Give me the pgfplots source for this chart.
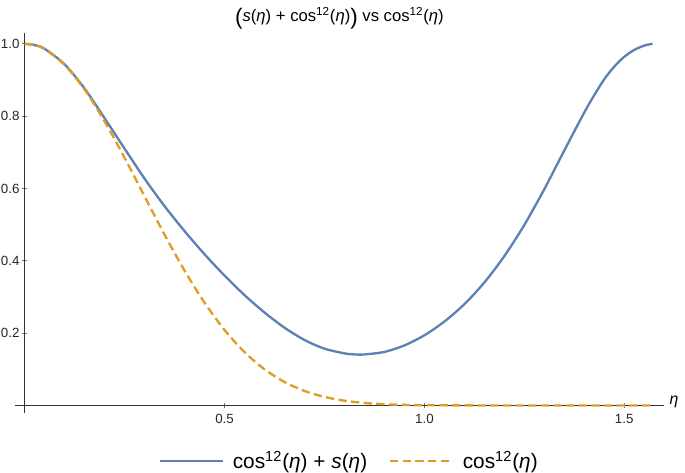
\documentclass[border=0pt]{standalone}
\usepackage{pgfplots}
\pgfplotsset{compat=1.18}
\usepackage{fontspec}
\setmainfont{Liberation Sans}
\definecolor{mblue}{RGB}{94,129,181}
\definecolor{morange}{RGB}{225,156,36}
\newcommand{\bigpar}[1]{\raisebox{-1.6pt}{\fontsize{13.5}{13.5}\selectfont #1}}
\begin{document}
\begin{tikzpicture}
\begin{axis}[
  scale only axis, width=390pt, height=228pt,
  axis lines=middle,
  xmin=-0.025, xmax=1.6, ymin=-0.02, ymax=1.03,
  xtick={0.5,1.0,1.5}, ytick={0.2,0.4,0.6,0.8,1.0},
  xticklabels={0.5,1.0,1.5}, yticklabels={0.2,0.4,0.6,0.8,1.0},
  tick label style={font=\fontsize{8}{10}\selectfont, text=black!85, inner sep=0.6pt},
  yticklabel style={xshift=-0.8pt},
  xticklabel style={yshift=-3pt},
  major tick length=3pt,
  tick style={black!55, thin},
  axis line style={black!80, line width=0.6pt, -},
  title={\bigpar{(}\textit{s}(\textit{η}) + cos\textsuperscript{12}(\textit{η})\bigpar{)} vs cos\textsuperscript{12}(\textit{η})},
  title style={font=\fontsize{10}{12}\selectfont, yshift=-7pt},
  legend style={at={(0.52,0)}, yshift=-22pt, anchor=north, draw=none, fill=none,
    inner sep=0pt,
    font=\fontsize{12.5}{14}\selectfont,
    nodes={inner xsep=5pt, inner ysep=1pt},
    /tikz/every even column/.append style={column sep=8pt}},
  legend columns=2,
  legend image code/.code={\draw[#1] (0pt,0pt) -- (38pt,0pt);},
  clip=false,
]
\addplot[mblue, line width=1.4pt, smooth] coordinates {
(0,1.000) (0.025,0.9965) (0.05,0.986) (0.10,0.943) (0.15,0.876) (0.20,0.794) (0.25,0.710)
(0.30,0.627) (0.35,0.551) (0.40,0.482) (0.45,0.418) (0.50,0.359) (0.55,0.305)
(0.60,0.257) (0.65,0.215) (0.70,0.181) (0.75,0.157) (0.80,0.144) (0.825,0.141)
(0.85,0.141) (0.90,0.148) (0.95,0.166) (1.00,0.194) (1.05,0.232) (1.10,0.280)
(1.15,0.340) (1.20,0.413) (1.25,0.499) (1.30,0.598) (1.35,0.705) (1.40,0.810)
(1.425,0.858) (1.45,0.902) (1.475,0.937) (1.50,0.964) (1.525,0.983) (1.55,0.995) (1.5708,1.000)
};
\addlegendentry{cos\textsuperscript{12}(\textit{η}) + \textit{s}(\textit{η})}
\addplot[morange, line width=1.4pt, smooth, dash pattern=on 5pt off 2.6pt] coordinates {
(0,1.000) (0.025,0.9963) (0.05,0.9851) (0.10,0.9417) (0.15,0.8733) (0.20,0.7854) (0.25,0.6846)
(0.30,0.5779) (0.35,0.4721) (0.40,0.3728) (0.45,0.2841) (0.50,0.2087) (0.55,0.1474)
(0.60,0.0999) (0.65,0.0648) (0.70,0.0401) (0.75,0.0235) (0.80,0.0131) (0.85,0.0068)
(0.90,0.0033) (0.95,0.0015) (1.00,0.0006) (1.10,0.0001) (1.20,0.0000) (1.30,0.0000)
(1.40,0.0000) (1.50,0.0000) (1.5708,0.0000)
};
\addlegendentry{cos\textsuperscript{12}(\textit{η})}
\node[anchor=west, font=\fontsize{9.5}{11}\selectfont\itshape, inner sep=1pt, xshift=2pt] at (axis cs:1.6,0.01) {η};
\end{axis}
\path ([yshift=1pt]current bounding box.north east) -- ([xshift=3pt]current bounding box.south east);
\end{tikzpicture}
\end{document}
